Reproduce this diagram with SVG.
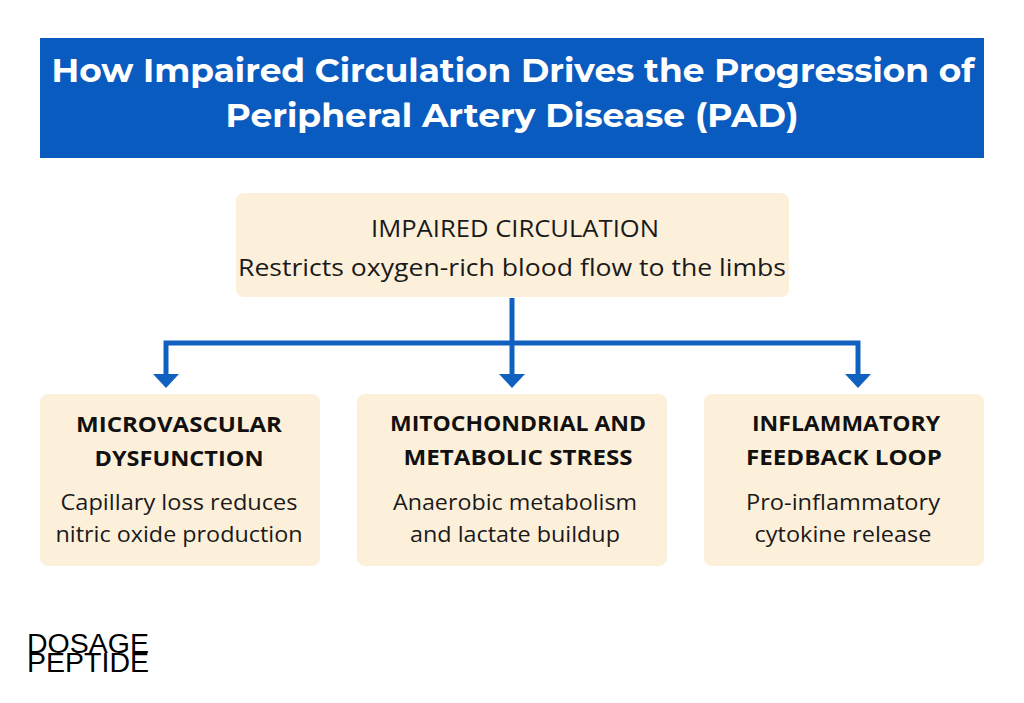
<svg xmlns="http://www.w3.org/2000/svg" width="1024" height="703" viewBox="0 0 1024 703">
<style>
.box{fill:#fdf0da}
.t{font-family:"Open Sans","Liberation Sans",sans-serif;fill:#1a1a1a;text-anchor:middle}
.h{font-family:"Open Sans","Liberation Sans",sans-serif;font-weight:700;font-size:21px;fill:#111;text-anchor:middle}
.b{font-size:21px}
.ln{stroke:#1060bf;stroke-width:5;fill:none}
.ar{fill:#1060bf}
</style>
<rect width="1024" height="703" fill="#fff"/>
<g id="header">
<rect x="40" y="38" width="944" height="120" fill="#0a5bbf"/>
<text x="513" y="82" font-family="Montserrat,'Open Sans','Liberation Sans',sans-serif" font-weight="700" font-size="33" fill="#fff" text-anchor="middle" textLength="923" lengthAdjust="spacingAndGlyphs">How Impaired Circulation Drives the Progression of</text>
<text x="512" y="127" font-family="Montserrat,'Open Sans','Liberation Sans',sans-serif" font-weight="700" font-size="33" fill="#fff" text-anchor="middle" textLength="573" lengthAdjust="spacingAndGlyphs">Peripheral Artery Disease (PAD)</text>
</g>
<g id="connectors">
<path class="ln" d="M512 298V376M166 376V343H858V376"/>
<polygon class="ar" points="153,374 179,374 166,388"/>
<polygon class="ar" points="499,374 525,374 512,388"/>
<polygon class="ar" points="845,374 871,374 858,388"/>
</g>
<g id="top">
<rect class="box" x="236" y="193" width="553" height="104" rx="8"/>
<text class="t" x="515" y="237" font-size="23" textLength="288" lengthAdjust="spacingAndGlyphs">IMPAIRED CIRCULATION</text>
<text class="t" x="512" y="276" font-size="23" textLength="548" lengthAdjust="spacingAndGlyphs">Restricts oxygen-rich blood flow to the limbs</text>
</g>
<g id="micro">
<rect class="box" x="40" y="394" width="280" height="172" rx="8"/>
<text class="h" x="179" y="432" textLength="206" lengthAdjust="spacingAndGlyphs">MICROVASCULAR</text>
<text class="h" x="179" y="466" textLength="169" lengthAdjust="spacingAndGlyphs">DYSFUNCTION</text>
<text class="t b" x="179" y="510" textLength="237" lengthAdjust="spacingAndGlyphs">Capillary loss reduces</text>
<text class="t b" x="179" y="542" textLength="247" lengthAdjust="spacingAndGlyphs">nitric oxide production</text>
</g>
<g id="mito">
<rect class="box" x="357" y="394" width="310" height="172" rx="8"/>
<text class="h" x="518" y="431" textLength="256" lengthAdjust="spacingAndGlyphs">MITOCHONDRIAL AND</text>
<text class="h" x="518" y="465" textLength="229" lengthAdjust="spacingAndGlyphs">METABOLIC STRESS</text>
<text class="t b" x="515" y="510" textLength="244" lengthAdjust="spacingAndGlyphs">Anaerobic metabolism</text>
<text class="t b" x="515" y="542" textLength="210" lengthAdjust="spacingAndGlyphs">and lactate buildup</text>
</g>
<g id="infl">
<rect class="box" x="704" y="394" width="280" height="172" rx="8"/>
<text class="h" x="846" y="431" textLength="188" lengthAdjust="spacingAndGlyphs">INFLAMMATORY</text>
<text class="h" x="844" y="465" textLength="196" lengthAdjust="spacingAndGlyphs">FEEDBACK LOOP</text>
<text class="t b" x="843" y="510" textLength="194" lengthAdjust="spacingAndGlyphs">Pro-inflammatory</text>
<text class="t b" x="843" y="542" textLength="177" lengthAdjust="spacingAndGlyphs">cytokine release</text>
</g>
<g id="logo">
<text x="27" y="653" font-family="'Liberation Sans',sans-serif" font-size="27" fill="#000" textLength="122" lengthAdjust="spacingAndGlyphs">DOSAGE</text>
<text x="27" y="672" font-family="'Liberation Sans',sans-serif" font-size="27" fill="#000" textLength="122" lengthAdjust="spacingAndGlyphs">PEPTIDE</text>
</g>
</svg>
